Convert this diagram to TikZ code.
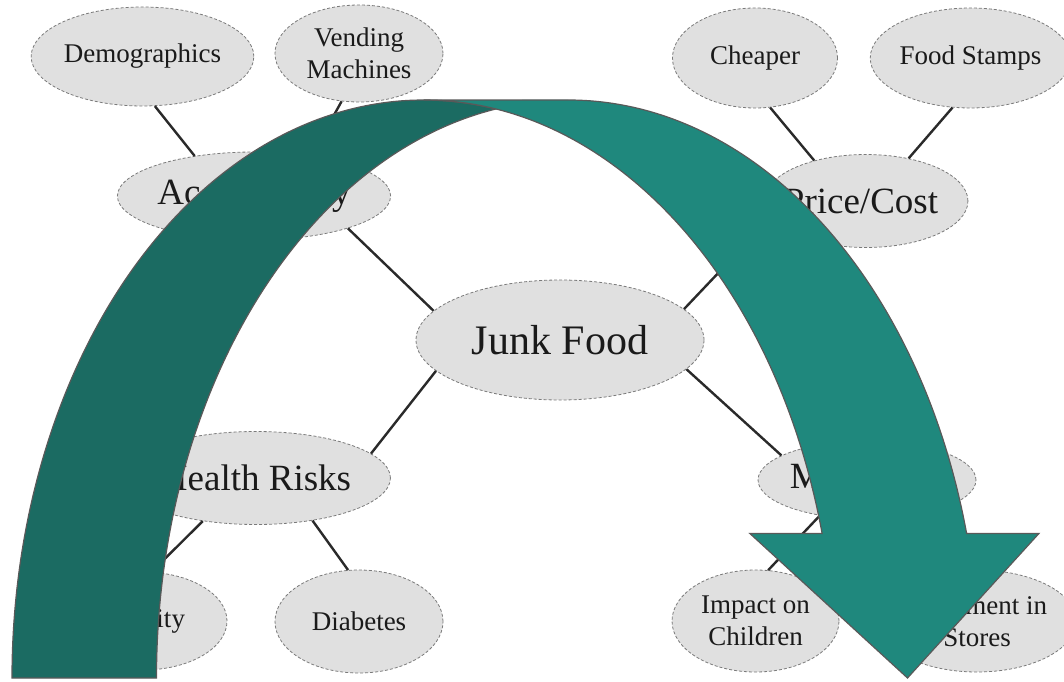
\documentclass[tikz,border=0pt]{standalone}
\usepackage{fontspec}
\setmainfont{Liberation Serif}
\usetikzlibrary{shapes.geometric}

\definecolor{bubblefill}{HTML}{E0E0E0}
\definecolor{bubbleline}{HTML}{7A7A7A}
\definecolor{ink}{HTML}{1A1A1A}
\definecolor{linkcol}{HTML}{2A2A2A}
\definecolor{arrowlight}{HTML}{1F887D}
\definecolor{arrowdark}{HTML}{1B6B62}
\definecolor{arrowedge}{HTML}{595959}

\begin{document}
\begin{tikzpicture}[x=1pt,y=1pt,
  bubble/.style={ellipse, draw=bubbleline, densely dashed, line width=0.8pt,
    fill=bubblefill, inner sep=0pt, text=ink, align=center},
  leaf/.style={bubble, font=\fontsize{27}{32}\selectfont},
  branch/.style={bubble, font=\fontsize{37}{40}\selectfont},
  hub/.style={bubble, font=\fontsize{42}{46}\selectfont},
  link/.style={draw=linkcol, line width=2.4pt},
  bandedge/.style={draw=arrowedge, line width=1.2pt, line join=miter}]

\useasboundingbox (0,0) rectangle (1064,681);
\fill[white] (0,0) rectangle (1064,681);

% centre of the map
\node[hub, minimum width=288, minimum height=120] (junk) at (560,341) {Junk Food};

% first ring
\node[branch, minimum width=208, minimum height=88] (acc) at (254,485) {Accessibility};
\node[branch, minimum width=194, minimum height=93] (price) at (866,480) {\hspace*{-10pt}Price/Cost};
\node[branch, minimum width=205, minimum height=93] (health) at (256,203) {Health Risks};
\node[branch, minimum width=211, minimum height=78] (mkt) at (867,201) {Marketing};

% leaves
\node[leaf, minimum width=169, minimum height=99] (demo) at (142.5,624.5) {Demographics};
\node[leaf, minimum width=168, minimum height=97] (vend) at (359,627.5) {Vending\\Machines};
\node[leaf, minimum width=165, minimum height=100] (cheap) at (755,623) {Cheaper};
\node[leaf, minimum width=163, minimum height=100] (stamps) at (970.5,623) {Food Stamps};
\node[leaf, minimum width=168, minimum height=98] (obes) at (143,60) {Obesity};
\node[leaf, minimum width=168, minimum height=103] (diab) at (359,59.5) {Diabetes};
\node[leaf, minimum width=167, minimum height=102] (impact) at (755.5,60) {Impact on\\Children};
\node[leaf, minimum width=168, minimum height=102] (place) at (977,60) {Placement in\\Stores};

% connectors
\draw[link] (demo.-76) -- (acc.146);
\draw[link] (vend.-110) -- (acc.35);
\draw[link] (acc.-19) -- (junk.167);
\draw[link] (cheap.-73) -- (price.142);
\draw[link] (stamps.-110) -- (price.45);
\draw[link] (price.190) -- (junk.14);
\draw[link] (junk.194) -- (health.12);
\draw[link] (health.219) -- (obes.80);
\draw[link] (health.-37) -- (diab.102);
\draw[link] (junk.-13) -- (mkt.164);
\draw[link] (mkt.217) -- (impact.76);
\draw[link] (mkt.-40) -- (place.104);

% curved arrow: shaded back band rising from the left foot
\filldraw[fill=arrowdark, bandedge]
  (12,3) arc[start angle=180, end angle=79.89, x radius=411.6, y radius=578]
         arc[start angle=100.11, end angle=180, x radius=411.6, y radius=578]
  -- cycle;

% curved arrow: front band descending to the head
\filldraw[fill=arrowlight, bandedge]
  (907.5,3) -- (749.9,147.5) -- (822.1,147.5)
  arc[start angle=14.48, end angle=90, x radius=411.6, y radius=578]
  -- (568.1,581)
  arc[start angle=90, end angle=14.48, x radius=411.6, y radius=578]
  -- (1038.9,147.5) -- cycle;

\end{tikzpicture}
\end{document}
